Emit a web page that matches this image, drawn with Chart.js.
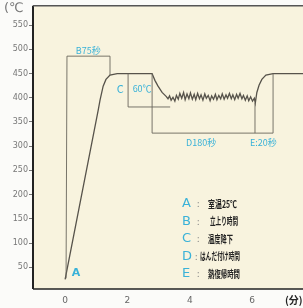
<!DOCTYPE html>
<html>
<head>
<meta charset="utf-8">
<script src="https://cdn.jsdelivr.net/npm/chart.js@4/dist/chart.umd.min.js"></script>
<style>
  html,body{margin:0;padding:0;background:#fbfbf9;}
  canvas{display:block;}
</style>
</head>
<body>
<canvas id="c" width="303" height="308"></canvas>
<script>
// temperature profile (minutes / degC)
var timeMin=[0,1.06,1.12,1.22,1.31,1.44,1.67,2.79,2.88,2.98,3.11,
  3.24,3.30,3.35,3.40,3.46,3.52,3.57,3.63,3.68,3.74,3.80,3.85,3.91,3.97,4.02,4.08,4.14,4.19,4.25,4.31,
  4.36,4.42,4.48,4.53,4.59,4.65,4.70,4.76,4.82,4.87,4.93,4.99,5.04,5.10,5.16,5.21,5.27,5.33,5.38,5.44,
  5.50,5.55,5.61,5.67,5.72,5.78,5.84,5.89,5.95,6.01,6.07,6.10,
  6.15,6.22,6.31,6.44,6.67,7.7]
var tempC=[25,374,395,424,438,447,450,450,436,424,411,
  403,398,404,395,401,393,405,397,409,399,411,396,408,398,410,397,407,396,409,398,
  406,395,408,399,405,394,404,397,407,396,405,398,408,397,406,399,409,398,406,396,
  407,399,409,398,405,395,404,394,402,393,399,389,
  411,426,438,447,450,450]

var xTicks=[0,2,4,6]
var yTicks=[50,100,150,200,250,300,350,400,450,500,550]

var legendKeys=["A","B","C","D","E"]
var legendTexts=["室温25℃","立上り時間","温度降下","はんだ付け時間","熱復帰時間"]

// bracket lines, in data units (minutes, degC)
var brackets=[
  [[0.03,27],[0.06,486],[1.44,486],[1.44,447]],
  [[2.02,450],[2.02,381],[3.37,381]],
  [[2.79,450],[2.79,327],[6.67,327],[6.67,450]],
  [[6.09,389],[6.09,327]]
]
// bracket labels: text, x, y (data units)
var bracketLabels=[["B75秒",0.74,497],["C",1.77,418],["60℃",2.47,418],["D180秒",4.36,308],["E:20秒",6.36,308]]

var cyan="#3ab2d8"

const paint={
  id:'paint',
  beforeDraw(chart){
    const {ctx,chartArea:a}=chart
    ctx.save()
    ctx.fillStyle="#fbfbf9"
    ctx.fillRect(0,0,chart.width,chart.height)
    ctx.fillStyle="#f8f3de"
    ctx.fillRect(a.left,a.top,a.right-a.left,a.bottom-a.top)
    ctx.restore()
  },
  afterDatasetsDraw(chart){
    const {ctx,chartArea:a}=chart
    const X=v=>chart.scales.x.getPixelForValue(v)
    const Y=v=>chart.scales.y.getPixelForValue(v)
    ctx.save()
    // brackets
    ctx.strokeStyle="#6a665c"
    ctx.lineWidth=0.9
    brackets.forEach(b=>{
      ctx.beginPath()
      b.forEach((p,i)=>{ i?ctx.lineTo(X(p[0]),Y(p[1])):ctx.moveTo(X(p[0]),Y(p[1])) })
      ctx.stroke()
    })
    ctx.fillStyle=cyan
    ctx.textAlign="center"
    ctx.textBaseline="middle"
    bracketLabels.forEach(l=>{
      ctx.font=(l[0]=="C"?"11px":"9px")+" 'Noto Sans CJK JP'"
      ctx.fillText(l[0],X(l[1]),Y(l[2]))
    })
    // point A
    ctx.font="bold 11px 'DejaVu Sans'"
    ctx.fillText("A",X(0)+11,Y(38))
    // frame
    ctx.strokeStyle="#222"
    ctx.lineWidth=2
    ctx.beginPath();ctx.moveTo(a.left,a.top);ctx.lineTo(a.left,a.bottom);ctx.stroke()
    ctx.lineWidth=1.5
    ctx.beginPath();ctx.moveTo(a.left,a.bottom);ctx.lineTo(a.right,a.bottom);ctx.stroke()
    ctx.strokeStyle="#555"
    ctx.beginPath();ctx.moveTo(a.left,a.top);ctx.lineTo(a.right,a.top);ctx.stroke()
    // legend
    const textX=[208,210,208,200,208], textW=[29,28,25,40,32]
    ctx.textAlign="left"
    legendKeys.forEach((k,i)=>{
      const yy=204+i*17.5
      ctx.fillStyle=cyan
      ctx.font="13px 'DejaVu Sans'"
      ctx.fillText(k,182,yy)
      ctx.fillStyle="#888"
      ctx.font="9px 'Noto Sans CJK JP'"
      ctx.fillText(":",k=="D"?195:197,yy)
      ctx.fillStyle="#222"
      ctx.font="bold 10px 'Noto Sans CJK JP'"
      ctx.fillText(legendTexts[i],textX[i],yy,textW[i])
    })
    // axis units
    ctx.fillStyle="#777"
    ctx.font="13px 'DejaVu Sans'"
    ctx.fillText("(℃",4,9)
    ctx.fillStyle="#222"
    ctx.font="bold 10px 'Noto Sans CJK JP'"
    ctx.fillText("(分)",285,300)
    ctx.restore()
  }
}

var points=timeMin.map((t,i)=>({x:t,y:tempC[i]}))

var chart=new Chart(document.getElementById('c'),{
  type:'line',
  data:{datasets:[{data:points,borderColor:"#57534b",borderWidth:1.3,pointRadius:0,tension:0,fill:false}]},
  options:{
    responsive:false,
    animation:false,
    layout:{padding:{top:5,right:0,left:0,bottom:0}},
    plugins:{legend:{display:false},tooltip:{enabled:false}},
    scales:{
      x:{type:'linear',min:-1.03,max:7.63,
        afterBuildTicks:s=>{s.ticks=xTicks.map(v=>({value:v}))},
        afterFit:s=>{s.height=19},
        border:{display:false},
        grid:{drawOnChartArea:false,drawTicks:false},
        ticks:{color:"#666",font:{size:9,family:"DejaVu Sans"},padding:6,autoSkip:false,maxRotation:0}
      },
      y:{min:5,max:590,
        afterBuildTicks:s=>{s.ticks=yTicks.map(v=>({value:v}))},
        afterFit:s=>{s.width=33},
        border:{display:false},
        grid:{drawOnChartArea:false,tickLength:4,color:"#777"},
        ticks:{color:"#777",font:{size:8,family:"DejaVu Sans"},padding:1,autoSkip:false}
      }
    }
  },
  plugins:[paint]
})
</script>
</body>
</html>
